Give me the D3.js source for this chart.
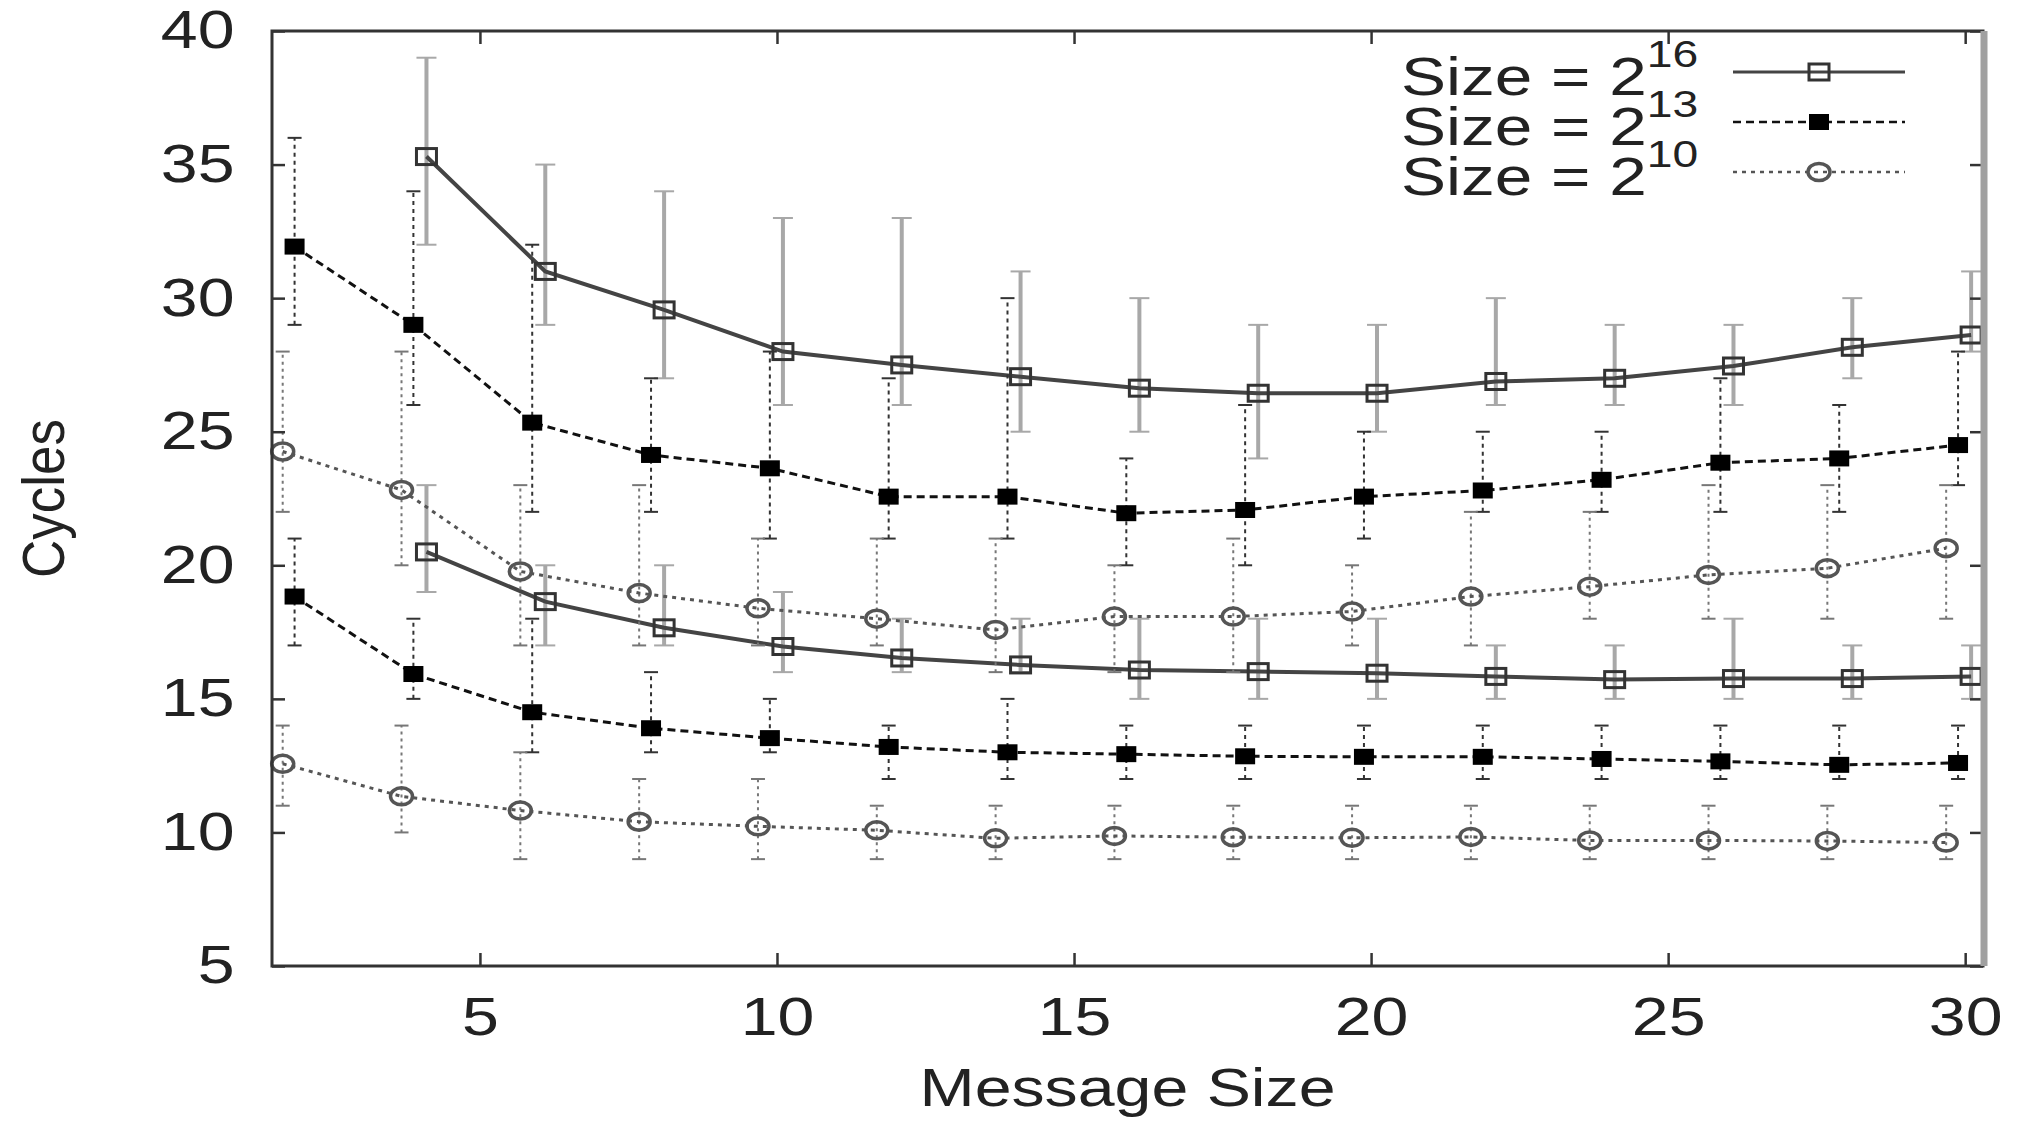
<!DOCTYPE html>
<html>
<head>
<meta charset="utf-8">
<script src="https://cdn.jsdelivr.net/npm/d3@7"></script>
<style>
  body { margin: 0; background: #fff; }
  text { font-family: "Liberation Sans", Arial, Helvetica, sans-serif; fill: #222; }
</style>
</head>
<body>
<div id="chart1"></div>
<script>
// message sizes on the x axis (the 2^16 runs start at 4)
const sizesFrom2 = [2, 4, 6, 8, 10, 12, 14, 16, 18, 20, 22, 24, 26, 28, 30];
const sizesFrom4 = [4, 6, 8, 10, 12, 14, 16, 18, 20, 22, 24, 26, 28, 30];

// upper group of curves: mean cycles, min and max (error bars)
const top16 = [35.3, 31.0, 29.56, 28.0, 27.5, 27.06, 26.63, 26.44, 26.44, 26.88, 27.0, 27.46, 28.16, 28.62];
const top16Min = [32, 29, 27, 26, 26, 25, 25, 24, 25, 26, 26, 26, 27, 28];
const top16Max = [39, 35, 34, 33, 33, 31, 30, 29, 29, 30, 29, 29, 30, 31];

const top13 = [31.93, 29.0, 25.34, 24.13, 23.63, 22.57, 22.57, 21.95, 22.07, 22.57, 22.8, 23.2, 23.84, 24.0, 24.5];
const top13Min = [29, 26, 22, 22, 21, 21, 21, 20, 20, 21, 22, 22, 22, 22, 23];
const top13Max = [36, 34, 32, 27, 28, 27, 30, 24, 26, 25, 25, 25, 27, 26, 28];

const top10 = [24.26, 22.82, 19.77, 18.96, 18.39, 18.0, 17.58, 18.08, 18.08, 18.27, 18.83, 19.2, 19.64, 19.89, 20.64];
const top10Min = [22, 20, 17, 17, 17, 17, 16, 16, 16, 17, 17, 18, 18, 18, 18];
const top10Max = [28, 28, 23, 23, 21, 21, 21, 20, 21, 20, 22, 22, 23, 23, 23];

// lower group of curves
const bot16 = [20.5, 18.64, 17.66, 16.96, 16.53, 16.27, 16.08, 16.02, 15.96, 15.84, 15.72, 15.76, 15.76, 15.84];
const bot16Min = [19, 17, 17, 16, 16, 16, 15, 15, 15, 15, 15, 15, 15, 15];
const bot16Max = [23, 20, 20, 19, 18, 18, 18, 18, 18, 17, 17, 18, 17, 17];

const bot13 = [18.83, 15.93, 14.5, 13.9, 13.53, 13.2, 13.0, 12.93, 12.85, 12.83, 12.83, 12.75, 12.66, 12.53, 12.6];
const bot13Min = [17, 15, 13, 13, 13, 12, 12, 12, 12, 12, 12, 12, 12, 12, 12];
const bot13Max = [21, 18, 18, 16, 15, 14, 15, 14, 14, 14, 14, 14, 14, 14, 14];

const bot10 = [12.57, 11.35, 10.82, 10.4, 10.23, 10.08, 9.78, 9.87, 9.82, 9.8, 9.83, 9.7, 9.7, 9.68, 9.62];
const bot10Min = [11, 10, 9, 9, 9, 9, 9, 9, 9, 9, 9, 9, 9, 9, 9];
const bot10Max = [14, 14, 13, 12, 12, 11, 11, 11, 11, 11, 11, 11, 11, 11, 11];

// axis ticks and legend
const xTicks = [5, 10, 15, 20, 25, 30];
const yTicks = [5, 10, 15, 20, 25, 30, 35, 40];
const legendExponents = ["16", "13", "10"];

const svgWidth = 2025, svgHeight = 1121;
const margin = { top: 31, right: 42, bottom: 155, left: 272 };
const width = svgWidth - margin.left - margin.right;
const height = svgHeight - margin.top - margin.bottom;
const stretch = 1.25; // the original figure is stretched sideways

const svg = d3.select("#chart1")
    .append("svg")
    .attr("width", svgWidth)
    .attr("height", svgHeight);

const x = d3.scaleLinear()
    .domain([1.5, 30.3])
    .range([margin.left, margin.left + width]);

const y = d3.scaleLinear()
    .domain([5, 40])
    .range([margin.top + height, margin.top]);

// line / marker style for each size
const styles = {
    "16": { line: "#444", lw: 4, dash: null, bar: "#a8a8a8", bw: 4, barDash: null, cap: 20, marker: "openSquare", shift: 0.1 },
    "13": { line: "#111", lw: 3, dash: "8,5", bar: "#333", bw: 2, barDash: "4,4", cap: 14, marker: "filledSquare", shift: -0.12 },
    "10": { line: "#555", lw: 3, dash: "4,5", bar: "#777", bw: 2, barDash: "3,4", cap: 14, marker: "openCircle", shift: -0.32 }
};

const seriesList = [
    { exp: "16", sizes: sizesFrom4, mean: top16, lo: top16Min, hi: top16Max },
    { exp: "16", sizes: sizesFrom4, mean: bot16, lo: bot16Min, hi: bot16Max },
    { exp: "13", sizes: sizesFrom2, mean: top13, lo: top13Min, hi: top13Max },
    { exp: "13", sizes: sizesFrom2, mean: bot13, lo: bot13Min, hi: bot13Max },
    { exp: "10", sizes: sizesFrom2, mean: top10, lo: top10Min, hi: top10Max },
    { exp: "10", sizes: sizesFrom2, mean: bot10, lo: bot10Min, hi: bot10Max }
];

function drawMarker(g, kind, cx, cy) {
    if (kind === "openSquare") {
        g.append("rect")
            .attr("x", cx - 10).attr("y", cy - 8)
            .attr("width", 20).attr("height", 16)
            .attr("fill", "none").attr("stroke", "#333").attr("stroke-width", 3);
    } else if (kind === "filledSquare") {
        g.append("rect")
            .attr("x", cx - 10).attr("y", cy - 8)
            .attr("width", 20).attr("height", 16)
            .attr("fill", "#000");
    } else {
        g.append("ellipse")
            .attr("cx", cx).attr("cy", cy)
            .attr("rx", 11).attr("ry", 8.5)
            .attr("fill", "none").attr("stroke", "#555").attr("stroke-width", 3.5);
    }
}

// Draw each series: error bars, line, markers
seriesList.forEach(s => {
    const st = styles[s.exp];
    const points = s.sizes.map((m, i) => ({ m: m + st.shift, v: s.mean[i], lo: s.lo[i], hi: s.hi[i] }));
    const g = svg.append("g");

    const bars = g.selectAll(".bar")
        .data(points)
        .enter().append("g");
    bars.append("line")
        .attr("x1", d => x(d.m)).attr("x2", d => x(d.m))
        .attr("y1", d => y(d.lo)).attr("y2", d => y(d.hi))
        .attr("stroke", st.bar).attr("stroke-width", st.bw)
        .attr("stroke-dasharray", st.barDash);
    ["lo", "hi"].forEach(key => {
        bars.append("line")
            .attr("x1", d => x(d.m) - st.cap / 2).attr("x2", d => x(d.m) + st.cap / 2)
            .attr("y1", d => y(d[key])).attr("y2", d => y(d[key]))
            .attr("stroke", st.bar).attr("stroke-width", 2);
    });

    const line = d3.line()
        .x(d => x(d.m))
        .y(d => y(d.v));

    g.append("path")
        .datum(points)
        .attr("fill", "none")
        .attr("stroke", st.line)
        .attr("stroke-width", st.lw)
        .attr("stroke-dasharray", st.dash)
        .attr("d", line);

    points.forEach(d => drawMarker(g, st.marker, x(d.m), y(d.v)));
});

// Axes with inward ticks on all four sides
const tickStyle = g => {
    g.select(".domain").remove();
    g.selectAll(".tick line").attr("stroke", "#333").attr("stroke-width", 2.5);
    g.selectAll(".tick text")
        .attr("font-size", 53)
        .attr("transform", `scale(${stretch},1)`);
};

svg.append("g")
    .attr("transform", `translate(0, ${margin.top + height})`)
    .call(d3.axisBottom(x).tickValues(xTicks).tickSizeInner(-13).tickSizeOuter(0).tickPadding(31))
    .call(tickStyle);

svg.append("g")
    .attr("transform", `translate(0, ${margin.top})`)
    .call(d3.axisTop(x).tickValues(xTicks).tickSizeInner(-13).tickSizeOuter(0).tickFormat(""))
    .call(tickStyle);

svg.append("g")
    .attr("transform", `translate(${margin.left}, 0)`)
    .call(d3.axisLeft(y).tickValues(yTicks).tickSizeInner(-13).tickSizeOuter(0).tickPadding(30))
    .call(tickStyle);

svg.append("g")
    .attr("transform", `translate(${margin.left + width}, 0)`)
    .call(d3.axisRight(y).tickValues(yTicks).tickSizeInner(-13).tickSizeOuter(0).tickFormat(""))
    .call(tickStyle);

// Plot border (right edge drawn thick and grey like the original)
svg.append("rect")
    .attr("x", margin.left).attr("y", margin.top)
    .attr("width", width).attr("height", height)
    .attr("fill", "none").attr("stroke", "#333").attr("stroke-width", 3);

svg.append("line")
    .attr("x1", margin.left + width + 1).attr("x2", margin.left + width + 1)
    .attr("y1", margin.top).attr("y2", margin.top + height)
    .attr("stroke", "#a0a0a0").attr("stroke-width", 7);

// Axis labels
svg.append("text")
    .attr("transform", `translate(${margin.left + width / 2}, 1106) scale(${stretch},1)`)
    .attr("text-anchor", "middle")
    .attr("font-size", 53)
    .text("Message Size");

svg.append("text")
    .attr("transform", `translate(64, ${margin.top + height / 2}) scale(1.12,1) rotate(-90)`)
    .attr("text-anchor", "middle")
    .attr("font-size", 53)
    .text("Cycles");

// Legend
const legend = svg.append("g");
legendExponents.forEach((exp, i) => {
    const st = styles[exp];
    const base = 95 + i * 50;
    const label = legend.append("text")
        .attr("transform", `translate(1401, ${base}) scale(${stretch},1)`)
        .attr("font-size", 54);
    label.append("tspan").text("Size = 2");
    label.append("tspan").attr("dy", -28).attr("font-size", 37).text(exp);

    const ly = base - 23;
    legend.append("line")
        .attr("x1", 1733).attr("x2", 1905)
        .attr("y1", ly).attr("y2", ly)
        .attr("stroke", st.line)
        .attr("stroke-width", exp === "16" ? 3 : 2.5)
        .attr("stroke-dasharray", st.dash);
    drawMarker(legend, st.marker, 1819, ly);
});
</script>
</body>
</html>
